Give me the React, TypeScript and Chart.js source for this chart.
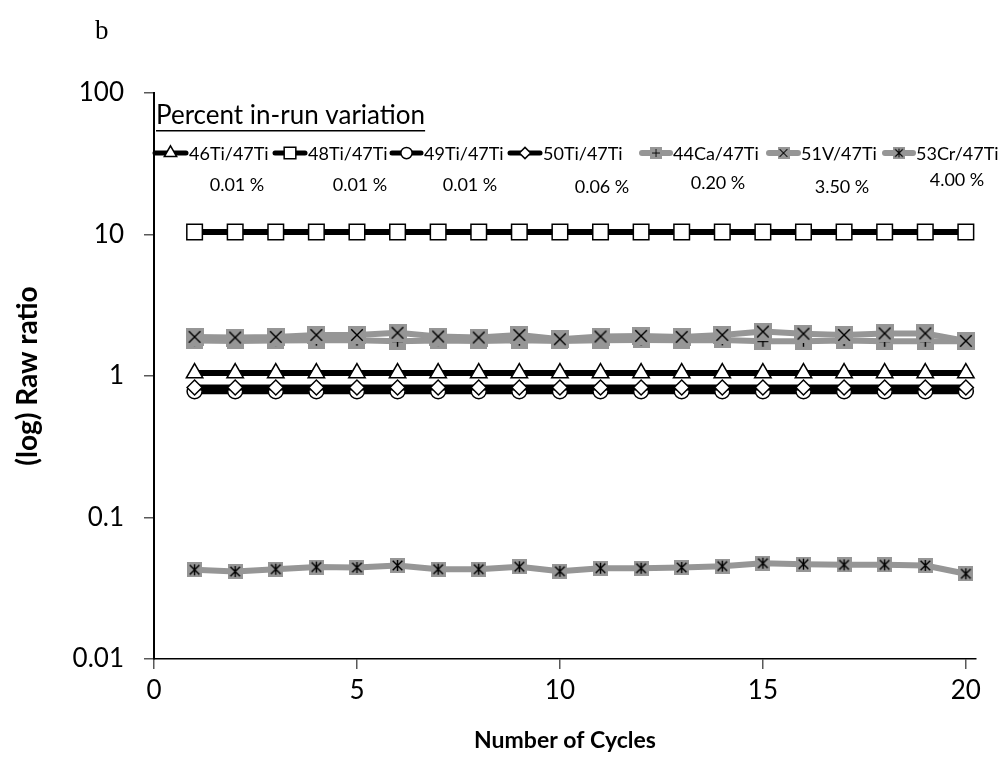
import React, { useEffect, useRef } from "react";
import { Chart, registerables } from "chart.js";

Chart.register(...registerables);

// ---------- data ----------
const cycles = [1, 2, 3, 4, 5, 6, 7, 8, 9, 10, 11, 12, 13, 14, 15, 16, 17, 18, 19, 20];
const seriesNames = ["46Ti/47Ti", "48Ti/47Ti", "49Ti/47Ti", "50Ti/47Ti", "44Ca/47Ti", "51V/47Ti", "53Cr/47Ti"];
const percentLabels = ["0.01 %", "0.01 %", "0.01 %", "0.06 %", "0.20 %", "3.50 %", "4.00 %"];
const ti46 = [1.05, 1.05, 1.05, 1.05, 1.05, 1.05, 1.05, 1.05, 1.05, 1.05, 1.05, 1.05, 1.05, 1.05, 1.05, 1.05, 1.05, 1.05, 1.05, 1.05];
const ti48 = [10.4, 10.4, 10.4, 10.4, 10.4, 10.4, 10.4, 10.4, 10.4, 10.4, 10.4, 10.4, 10.4, 10.4, 10.4, 10.4, 10.4, 10.4, 10.4, 10.4];
const ti49 = [0.78, 0.78, 0.78, 0.78, 0.78, 0.78, 0.78, 0.78, 0.78, 0.78, 0.78, 0.78, 0.78, 0.78, 0.78, 0.78, 0.78, 0.78, 0.78, 0.78];
const ti50 = [0.83, 0.83, 0.83, 0.83, 0.83, 0.83, 0.83, 0.83, 0.83, 0.83, 0.83, 0.83, 0.83, 0.83, 0.83, 0.83, 0.83, 0.83, 0.83, 0.83];
const ca44 = [1.78, 1.77, 1.78, 1.79, 1.79, 1.76, 1.78, 1.77, 1.79, 1.77, 1.79, 1.8, 1.79, 1.8, 1.76, 1.76, 1.78, 1.76, 1.76, 1.76];
const v51 = [1.89, 1.87, 1.89, 1.95, 1.95, 2.02, 1.9, 1.87, 1.95, 1.82, 1.9, 1.92, 1.89, 1.95, 2.06, 1.99, 1.95, 2.0, 2.0, 1.77];
const cr53 = [0.0427, 0.0415, 0.0431, 0.0446, 0.0443, 0.0458, 0.0431, 0.0431, 0.0449, 0.0417, 0.0438, 0.0438, 0.0443, 0.0453, 0.0475, 0.0468, 0.0463, 0.0463, 0.0458, 0.04];
const yTickValues = [0.01, 0.1, 1, 10, 100];
const xTickStep = 5;

// ---------- layout / style ----------
const FONT = "Lato";
const GREY = "#969696";
const W = 1005;
const H = 767;
const legendSymbols = [
  [153, 188],
  [273, 307],
  [390, 423],
  [508, 542],
  [640, 672],
  [767, 800],
  [883, 915],
];
const legendRowY = 153;
const percentPos = [
  [237, 185],
  [360, 185],
  [470, 185],
  [602, 187],
  [718, 183],
  [842, 187],
  [957, 180],
];

function makeBoxMarker(size: number, kind: string): HTMLCanvasElement {
  const c = document.createElement("canvas");
  c.width = size;
  c.height = size;
  const g = c.getContext("2d")!;
  g.fillStyle = GREY;
  g.fillRect(0, 0, size, size);
  g.strokeStyle = "#000";
  g.lineWidth = 1.4;
  const m = size / 2;
  const a = size * 0.32;
  g.beginPath();
  if (kind === "plus") {
    g.moveTo(m - a, m);
    g.lineTo(m + a, m);
    g.moveTo(m, m - a);
    g.lineTo(m, m + a);
  } else if (kind === "x") {
    g.moveTo(m - a, m - a);
    g.lineTo(m + a, m + a);
    g.moveTo(m + a, m - a);
    g.lineTo(m - a, m + a);
  } else {
    g.moveTo(m - a, m - a);
    g.lineTo(m + a, m + a);
    g.moveTo(m + a, m - a);
    g.lineTo(m - a, m + a);
    g.moveTo(m, m - a * 1.15);
    g.lineTo(m, m + a * 1.15);
  }
  g.stroke();
  return c;
}

export default function App() {
  const ref = useRef<HTMLCanvasElement>(null);

  useEffect(() => {
    const canvas = ref.current!;
    const caImg = makeBoxMarker(17, "plus");
    const vImg = makeBoxMarker(18, "x");
    const crImg = makeBoxMarker(15, "star");

    const toXY = (arr: number[]) => cycles.map((c, i) => ({ x: c, y: arr[i] }));

    const blackLine = { borderColor: "#000", borderWidth: 6, pointBackgroundColor: "#fff", pointBorderColor: "#000", pointBorderWidth: 1.5 };
    const greyLine = { borderColor: GREY, borderWidth: 6 };

    const datasets: any[] = [
      { ...blackLine, label: seriesNames[0], data: toXY(ti46), pointStyle: "triangle", pointRadius: 9.5 },
      { ...blackLine, label: seriesNames[1], data: toXY(ti48), pointStyle: "rect", pointRadius: 11 },
      { ...blackLine, label: seriesNames[2], data: toXY(ti49), pointStyle: "circle", pointRadius: 7.5 },
      { ...blackLine, label: seriesNames[3], data: toXY(ti50), pointStyle: "rectRot", pointRadius: 7.5 },
      { ...greyLine, label: seriesNames[4], data: toXY(ca44), pointStyle: caImg, pointRadius: 9 },
      { ...greyLine, label: seriesNames[5], data: toXY(v51), pointStyle: vImg, pointRadius: 9 },
      { ...greyLine, label: seriesNames[6], data: toXY(cr53), pointStyle: crImg, pointRadius: 8 },
    ].map((d, i) => ({ ...d, order: 10 - i, tension: 0, fill: false }));

    const drawMarker = (ctx: CanvasRenderingContext2D, ds: any, x: number, y: number) => {
      const st = ds.pointStyle;
      const r = ds.pointRadius;
      ctx.beginPath();
      if (st === "triangle") {
        ctx.moveTo(x, y - r);
        ctx.lineTo(x + r * 0.866, y + r * 0.5);
        ctx.lineTo(x - r * 0.866, y + r * 0.5);
        ctx.closePath();
      } else if (st === "rect") {
        const s = r * Math.SQRT1_2;
        ctx.rect(x - s, y - s, 2 * s, 2 * s);
      } else if (st === "circle") {
        ctx.arc(x, y, r, 0, Math.PI * 2);
      } else {
        ctx.moveTo(x - r, y);
        ctx.lineTo(x, y - r);
        ctx.lineTo(x + r, y);
        ctx.lineTo(x, y + r);
        ctx.closePath();
      }
      ctx.fillStyle = "#fff";
      ctx.fill();
      ctx.lineWidth = 1.5;
      ctx.strokeStyle = "#000";
      ctx.stroke();
    };

    const overlay = {
      id: "overlay",
      afterDraw(chart: any) {
        const ctx: CanvasRenderingContext2D = chart.ctx;
        ctx.save();
        // panel letter
        ctx.fillStyle = "#000";
        ctx.font = '27px "Liberation Serif"';
        ctx.textAlign = "left";
        ctx.textBaseline = "alphabetic";
        ctx.fillText("b", 95, 39);

        // legend heading
        ctx.font = `26px ${FONT}`;
        ctx.textBaseline = "middle";
        const head = "Percent in-run variation";
        ctx.fillText(head, 156, 116);
        const hw = ctx.measureText(head).width;
        ctx.fillRect(156, 130, hw, 1.5);

        // legend row
        ctx.font = `18px ${FONT}`;
        datasets.forEach((ds, i) => {
          const [x0, x1] = legendSymbols[i];
          ctx.beginPath();
          ctx.strokeStyle = ds.borderColor;
          ctx.lineWidth = i < 4 ? 5 : 6;
          ctx.lineCap = "round";
          ctx.moveTo(x0 + 2, legendRowY);
          ctx.lineTo(x1 - 2, legendRowY);
          ctx.stroke();
          ctx.lineCap = "butt";
          if (typeof ds.pointStyle === "string") {
            drawMarker(ctx, { ...ds, pointRadius: ds.pointRadius * 0.75 }, (x0 + x1) / 2, legendRowY);
          } else {
            const img = ds.pointStyle as HTMLCanvasElement;
            const s = 12;
            ctx.drawImage(img, (x0 + x1) / 2 - s / 2, legendRowY - s / 2, s, s);
          }
          ctx.fillStyle = "#000";
          ctx.textAlign = "left";
          ctx.fillText(seriesNames[i], x1 + 1, legendRowY + 1);
        });

        // percent values
        ctx.textAlign = "center";
        percentLabels.forEach((t, i) => {
          ctx.fillText(t, percentPos[i][0], percentPos[i][1]);
        });
        ctx.restore();
      },
    };

    const chart = new Chart(canvas, {
      type: "line",
      data: { datasets },
      plugins: [overlay],
      options: {
        animation: false,
        responsive: false,
        maintainAspectRatio: false,
        layout: { padding: { top: 93, right: 29, left: 0, bottom: 0 } },
        plugins: {
          legend: { display: false },
          tooltip: { enabled: false },
          title: { display: false },
        },
        elements: { line: { borderCapStyle: "round", borderJoinStyle: "round" } },
        scales: {
          x: {
            type: "linear",
            min: 0,
            max: 20.25,
            ticks: {
              stepSize: xTickStep,
              includeBounds: false,
              color: "#000",
              font: { family: FONT, size: 26 },
              padding: 6,
              maxRotation: 0,
            },
            grid: { display: true, drawOnChartArea: false, drawTicks: true, tickLength: 10, color: "#595959", lineWidth: 1.5 },
            border: { display: true, color: "#000", width: 1.5 },
            title: {
              display: true,
              text: "Number of Cycles",
              color: "#000",
              font: { family: FONT, size: 23, weight: "bold" },
              padding: { top: 0, bottom: 13 },
            },
            afterFit: (s: any) => {
              s.height = 108;
            },
          },
          y: {
            type: "logarithmic",
            min: 0.01,
            max: 100,
            afterBuildTicks: (s: any) => {
              s.ticks = yTickValues.map((v) => ({ value: v }));
            },
            ticks: {
              callback: (v: any) => String(v),
              color: "#000",
              font: { family: FONT, size: 26 },
              padding: 20,
            },
            grid: { display: true, drawOnChartArea: false, drawTicks: true, tickLength: 10, color: "#595959", lineWidth: 1.5 },
            border: { display: true, color: "#000", width: 2 },
            title: {
              display: true,
              text: "(log) Raw ratio",
              color: "#000",
              font: { family: FONT, size: 28, weight: "bold" },
              padding: { top: 11, bottom: 0 },
            },
            afterFit: (s: any) => {
              s.width = 154;
            },
          },
        },
      } as any,
    });
    return () => chart.destroy();
  }, []);

  return (
    <div style={{ position: "absolute", left: 0, top: 0, width: W, height: H, background: "#fff" }}>
      <canvas ref={ref} width={W} height={H} style={{ display: "block" }} />
    </div>
  );
}
